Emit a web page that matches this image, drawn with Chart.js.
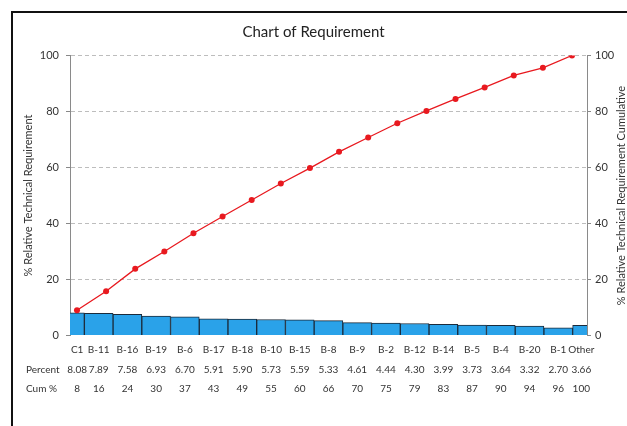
<!DOCTYPE html>
<html>
<head>
<meta charset="utf-8">
<title>Chart of Requirement</title>
<script src="https://cdn.jsdelivr.net/npm/chart.js@4.4.1/dist/chart.umd.min.js"></script>
<style>
    html, body { margin: 0; padding: 0; background: #fff; overflow: hidden; }
    #wrap { position: relative; width: 627px; height: 426px; }
    #frame {
        position: absolute; left: 11px; top: 11px;
        width: 700px; height: 500px;
        border: 2px solid #111; pointer-events: none;
    }
</style>
</head>
<body>
<div id="wrap">
    <canvas id="paretoChart"></canvas>
    <div id="frame"></div>
</div>
<script>
// Categories and values
const categories = ['C1', 'B-11', 'B-16', 'B-19', 'B-6', 'B-17', 'B-18', 'B-10', 'B-15', 'B-8',
                    'B-9', 'B-2', 'B-12', 'B-14', 'B-5', 'B-4', 'B-20', 'B-1', 'Other'];
const percentValues = [8.08, 7.89, 7.58, 6.93, 6.70, 5.91, 5.90, 5.73, 5.59, 5.33,
                       4.61, 4.44, 4.30, 3.99, 3.73, 3.64, 3.32, 2.70, 3.66];
const cumLabels = [8, 16, 24, 30, 37, 43, 49, 55, 60, 66, 70, 75, 79, 83, 87, 90, 94, 96, 100];
// Cumulative line as drawn (18 markers)
const cumLine = [9.0, 15.8, 23.8, 30.0, 36.5, 42.5, 48.4, 54.3, 59.8, 65.6,
                 70.7, 75.8, 80.2, 84.5, 88.6, 92.9, 95.6, 100];
const yTicks = [0, 20, 40, 60, 80, 100];

const FONT = 'Lato, "Open Sans", sans-serif';
const TEXT = '#333';

/**
 * Draws the table under the bars and the right axis title
 */
const tablePlugin = {
    id: 'paretoTable',
    afterDraw(chart) {
        const ctx = chart.ctx;
        const xs = chart.scales.x;
        const area = chart.chartArea;
        const step = xs.width / (categories.length - 1);

        ctx.save();
        ctx.fillStyle = TEXT;
        ctx.font = '10px ' + FONT;
        ctx.textBaseline = 'middle';
        ctx.textAlign = 'center';

        categories.forEach((cat, i) => {
            const x = xs.getPixelForValue(i);
            const l = Math.max(area.left, x - step / 2);
            const r = Math.min(area.right + 3, x + step / 2);
            const cx = (l + r) / 2;
            ctx.fillText(cat, cx, 350);
            ctx.fillText(percentValues[i].toFixed(2), cx, 369.5);
            ctx.fillText(String(cumLabels[i]), cx, 389);
        });

        ctx.textAlign = 'left';
        ctx.fillText('Percent', 26, 369.5);
        ctx.fillText('Cum %', 26, 389);

        // right axis title, reads bottom to top
        ctx.font = '11px ' + FONT;
        ctx.translate(621, (area.top + area.bottom) / 2);
        ctx.rotate(-Math.PI / 2);
        ctx.textAlign = 'center';
        ctx.fillText('% Relative Technical Requirement Cumulative', 0, 0);
        ctx.restore();
    }
};

const tickFont = { family: FONT, size: 11 };

new Chart(document.getElementById('paretoChart').getContext('2d'), {
    data: {
        labels: categories,
        datasets: [
            {
                type: 'line',
                label: 'Cum %',
                data: cumLine.map((v, i) => ({ x: i, y: v })),
                xAxisID: 'x2',
                yAxisID: 'y',
                borderColor: '#e8191f',
                backgroundColor: '#e8191f',
                borderWidth: 1.3,
                pointRadius: 3,
                pointBorderWidth: 0,
                tension: 0,
                order: 0
            },
            {
                type: 'bar',
                label: 'Percent',
                data: percentValues,
                xAxisID: 'x',
                yAxisID: 'y',
                backgroundColor: '#2aa2e9',
                borderColor: '#1b2b3b',
                borderWidth: 1,
                grouped: false,
                barPercentage: 1,
                categoryPercentage: 1,
                order: 1
            }
        ]
    },
    options: {
        responsive: true,
        maintainAspectRatio: false,
        animation: false,
        layout: { padding: 0 },
        plugins: {
            legend: { display: false },
            tooltip: { enabled: false },
            title: {
                display: true,
                text: 'Chart of Requirement',
                color: '#222',
                font: { family: FONT, size: 15, weight: 'normal', lineHeight: 1.2 },
                padding: { top: 23, bottom: 14.5 }
            }
        },
        scales: {
            x: {
                type: 'category',
                offset: false,
                grid: { display: false },
                border: { display: false },
                ticks: { display: false },
                afterFit(scale) { scale.height = 90.5; }
            },
            x2: {
                type: 'linear',
                display: false,
                min: -0.24,
                max: 17.515
            },
            y: {
                position: 'left',
                min: 0,
                max: 100,
                afterBuildTicks(scale) { scale.ticks = yTicks.map(v => ({ value: v })); },
                afterFit(scale) { scale.width = 70; },
                ticks: { color: TEXT, font: tickFont, padding: 7 },
                grid: {
                    color: ctx => ctx.tick && ctx.tick.value === 0 ? 'rgba(0,0,0,0)' : '#bdbdbd',
                    tickLength: 4,
                    tickColor: '#888',
                    tickBorderDash: []
                },
                // in v4 the dash of the grid lines lives under border
                border: { color: '#8a8a8a', width: 1, dash: [4, 3] },
                title: {
                    display: true,
                    text: '% Relative Technical Requirement',
                    color: TEXT,
                    font: { family: FONT, size: 11, lineHeight: 1.2 },
                    padding: { top: 22, bottom: 0 }
                }
            },
            y2: {
                position: 'right',
                min: 0,
                max: 100,
                afterBuildTicks(scale) { scale.ticks = yTicks.map(v => ({ value: v })); },
                afterFit(scale) { scale.width = 40; },
                ticks: { color: TEXT, font: tickFont, padding: 4 },
                grid: {
                    drawOnChartArea: false,
                    tickLength: 4,
                    tickColor: '#888'
                },
                border: { color: '#8a8a8a', width: 1 }
            }
        }
    },
    plugins: [tablePlugin]
});
</script>
</body>
</html>
